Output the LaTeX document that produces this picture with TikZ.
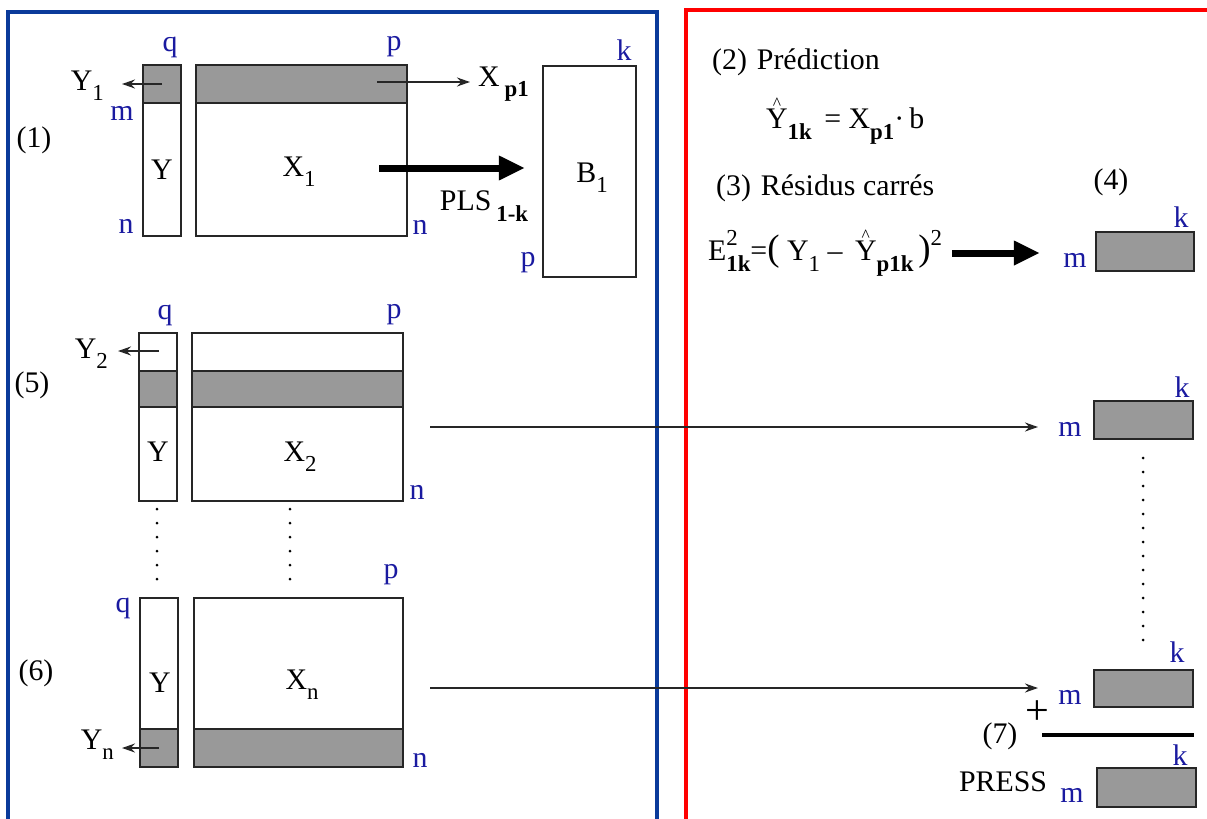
\documentclass[tikz,border=0pt]{standalone}
\usepackage{fontspec}
\setmainfont{Liberation Serif}
\usepackage{tikz}
\usetikzlibrary{arrows.meta,positioning,fit}
\definecolor{frameblue}{HTML}{0A3A9A}
\definecolor{framered}{HTML}{FF0000}
\definecolor{dimblue}{HTML}{1A1AA0}
\definecolor{rowgray}{HTML}{999999}
\newcommand{\idx}[1]{\raisebox{-0.75ex}{\fontsize{13}{13}\selectfont #1}}
\newcommand{\pow}[1]{\raisebox{1.1ex}{\fontsize{13}{13}\selectfont #1}}
\newcommand{\hatY}{\makebox[0pt][l]{\hspace{3.8pt}\raisebox{11pt}{\fontsize{10}{10}\selectfont\textasciicircum}}Y}
\newcommand{\bigpar}[1]{{\fontsize{21}{21}\selectfont #1}}
\tikzset{
  txt/.style={font=\fontsize{17}{20}\selectfont,inner sep=1pt,text=black},
  dim/.style={txt,text=dimblue},
  mat/.style={draw=black!85,line width=1.3pt,fill=white,inner sep=0pt},
  shade/.style={mat,fill=rowgray},
  frame/.style={line width=0.65mm},
  arrow/.style={-{Stealth[length=2.6mm,width=1.8mm]},line width=1.1pt,color=black!85},
  fat/.style={-{Triangle[length=5.2mm,width=4.6mm]},line width=1.4mm},
  dots/.style={line width=0.6mm,line cap=round,dash pattern=on 0pt off 2.8mm},
}
\begin{document}
\begin{tikzpicture}[x=0.2mm,y=-0.2mm]
  \useasboundingbox (0,0) rectangle (1207,818);
  \clip (0,0) rectangle (1207,818);
  \draw[frame,draw=frameblue] (8,12) rectangle (657,850);
  \draw[frame,draw=framered] (686,10) rectangle (1240,850);
  % (1) first fit
  \node[txt] (s1) at (34,140) {(1)};
  \node[mat,fit={(143,65) (181,236)}] (Y1) {};
  \node[shade,fit={(143,65) (181,103)}] (Y1row) {};
  \node[txt] (Y1txt) at (162,170) {Y};
  \node[mat,fit={(196,65) (407,236)}] (X1) {};
  \node[shade,fit={(196,65) (407,103)}] (X1row) {};
  \node[txt] (X1txt) at (299,172) {X\idx{1}};
  \node[dim] (q1) at (170,47) {q};
  \node[dim] (p1) at (394,47) {p};
  \node[dim] (m1) at (122,113) {m};
  \node[dim] (n1) at (126,226) {n};
  \node[dim] (n1r) at (420,227) {n};
  \node[txt,anchor=east] (y1out) at (106,86) {Y\idx{1}};
  \draw[arrow,shorten >=3.2mm] (Y1row.center) -- (Y1row.center -| y1out.east);
  \coordinate (xp1start) at (377,82);
  \node[txt,anchor=west] (xp1) at (476,84) {X\,\idx{\textbf{p1}}};
  \draw[arrow,shorten >=1.2mm] (xp1start) -- (xp1start -| xp1.west);
  \node[mat,fit={(543,66) (636,277)}] (B1) {};
  \node[txt] (B1txt) at (592,178) {B\idx{1}};
  \node[dim] (kB) at (624,50) {k};
  \node[dim] (pB) at (528,263) {p};
  \coordinate (plsstart) at (379,168);
  \draw[fat,shorten >=3.4mm] (plsstart) -- (plsstart -| B1.west);
  \node[txt] (pls) at (484,206) {PLS\,\idx{\textbf{1-k}}};
  % (5) second fit
  \node[txt] (s5) at (32,385) {(5)};
  \node[mat,fit={(139,333) (177,501)}] (Y2) {};
  \node[shade,fit={(139,371) (177,407)}] (Y2row) {};
  \node[txt] (Y2txt) at (158,452) {Y};
  \node[mat,fit={(192,333) (403,501)}] (X2) {};
  \node[shade,fit={(192,371) (403,407)}] (X2row) {};
  \node[txt] (X2txt) at (300,457) {X\idx{2}};
  \node[dim] (q2) at (165,315) {q};
  \node[dim] (p2) at (394,315) {p};
  \node[dim] (n2) at (417,492) {n};
  \coordinate (y2start) at (159,351);
  \node[txt,anchor=east] (y2out) at (110,354) {Y\idx{2}};
  \draw[arrow,shorten >=1.6mm] (y2start) -- (y2start -| y2out.east);
  \draw[dots] (157,509) -- (157,580);
  \draw[dots] (290,509) -- (290,580);
  % (6) last fit
  \node[txt] (s6) at (36,673) {(6)};
  \node[mat,fit={(140,598) (178,767)}] (Yn) {};
  \node[shade,fit={(140,729) (178,767)}] (Ynrow) {};
  \node[txt] (Yntxt) at (160,683) {Y};
  \node[mat,fit={(194,598) (403,767)}] (Xn) {};
  \node[shade,fit={(194,729) (403,767)}] (Xnrow) {};
  \node[txt] (Xntxt) at (302,685) {X\idx{n}};
  \node[dim] (qn) at (123,608) {q};
  \node[dim] (pn) at (391,575) {p};
  \node[dim] (nn) at (420,760) {n};
  \node[txt,anchor=east] (ynout) at (116,745) {Y\idx{n}};
  \draw[arrow,shorten >=1.2mm] (Ynrow.center) -- (Ynrow.center -| ynout.east);
  % right part
  \node[txt,anchor=west] (pred) at (710,62) {(2)\hspace{2mm}Prédiction};
  \node[txt,anchor=west] (yhat) at (764,121) {\hatY\idx{\textbf{1k}}\hspace{2.5mm}=\hspace{1.5mm}X\idx{\textbf{p1}}\textperiodcentered\,b};
  \node[txt,anchor=west] (resid) at (714,188) {(3)\hspace{2mm}Résidus carrés};
  \node[txt] (s4) at (1111,182) {(4)};
  \node[txt,anchor=west] (err) at (706,253) {E\rlap{\pow{2}}\idx{\textbf{1k}}=\bigpar{(}\hspace{1.5mm}Y\idx{1}\hspace{1.5mm}--\hspace{2.5mm}\hatY\idx{\textbf{p1k}}\,\bigpar{)}\pow{2}};
  \node[shade,fit={(1096,232) (1194,271)}] (box4) {};
  \node[dim] (m4) at (1075,260) {m};
  \node[dim] (k4) at (1181,217) {k};
  \draw[fat,shorten <=1.6mm,shorten >=11mm] (err.east) -- (err.east -| box4.west);
  \node[shade,fit={(1094,401) (1193,439)}] (box2) {};
  \node[dim] (m2) at (1070,429) {m};
  \node[dim] (k2) at (1182,387) {k};
  \node[shade,fit={(1094,670) (1193,707)}] (boxn) {};
  \node[dim] (mn) at (1070,697) {m};
  \node[dim] (kn) at (1177,652) {k};
  \draw[dots] (1143,458) -- (1143,642);
  \coordinate (tip2) at (1038,427);
  \coordinate (tipn) at (1038,688);
  \draw[arrow,shorten <=5.2mm] (X2.east |- tip2) -- (tip2);
  \draw[arrow,shorten <=5.2mm] (Xn.east |- tipn) -- (tipn);
  \node[txt,font=\fontsize{24}{24}\selectfont] (plus) at (1037,713) {+};
  \node[txt] (s7) at (1000,736) {(7)};
  \draw[line width=0.8mm] (1042,735) -- (1194,735);
  \node[txt] (presstxt) at (1003,782) {PRESS};
  \node[shade,fit={(1097,768) (1196,807)}] (press) {};
  \node[dim] (mp) at (1072,795) {m};
  \node[dim] (kp) at (1180,755) {k};
\end{tikzpicture}
\end{document}
